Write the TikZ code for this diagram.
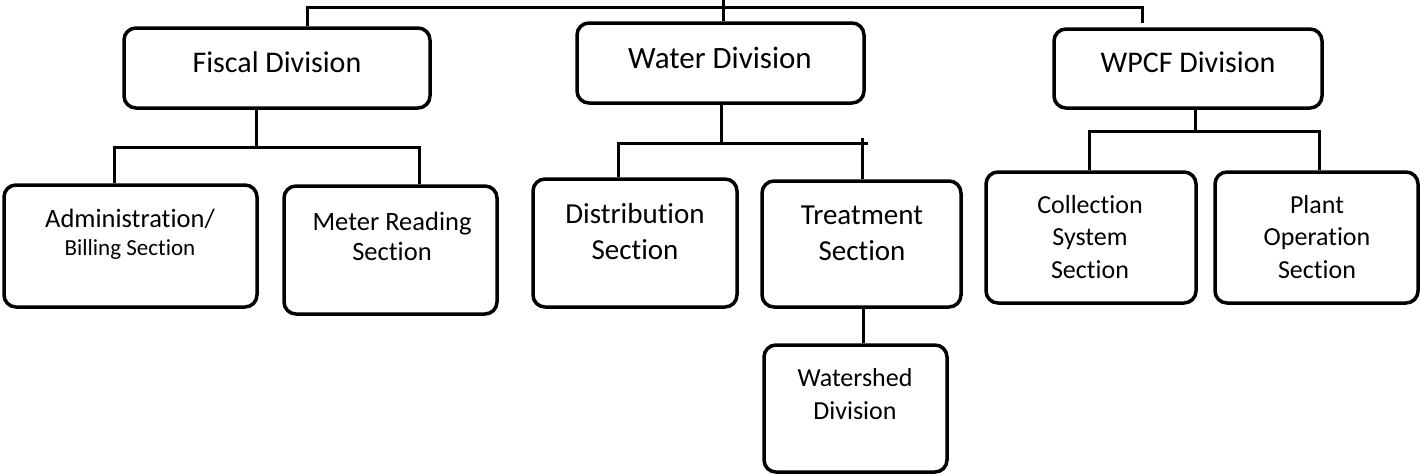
\documentclass[tikz,border=0pt]{standalone}
\usepackage{fontspec}
\setmainfont[Ligatures=NoCommon]{Carlito}
\begin{document}
\begin{tikzpicture}[x=1pt,y=-1pt,
  box/.style={draw, line width=3.5pt, rounded corners=12pt, inner sep=0pt},
  lbl/.style={anchor=base, align=center, inner sep=0pt},
  link/.style={line width=3pt},
  big/.style={font=\fontsize{30}{36}\selectfont},
  mid/.style={font=\fontsize{29}{36}\selectfont},
  sml/.style={font=\fontsize{26.5}{30}\selectfont},
  tiny/.style={font=\fontsize{26}{32.5}\selectfont}]
\useasboundingbox (0,0) rectangle (1420,474);

% division boxes
\node[box, minimum width=306pt, minimum height=80pt] (fiscal) at (277,68) {};
\node[box, minimum width=287pt, minimum height=80pt] (water) at (720.5,63) {};
\node[box, minimum width=268pt, minimum height=79pt] (wpcf) at (1188,68.5) {};

% section boxes
\node[box, minimum width=253pt, minimum height=122pt] (admin) at (130.5,246) {};
\node[box, minimum width=213pt, minimum height=128pt] (meter) at (390.5,250) {};
\node[box, minimum width=204pt, minimum height=128pt] (dist) at (635,243) {};
\node[box, minimum width=199pt, minimum height=126pt] (treat) at (861.5,244) {};
\node[box, minimum width=183pt, minimum height=127pt] (wshed) at (855.5,408.5) {};
\node[box, minimum width=210pt, minimum height=131pt] (coll) at (1091,237.5) {};
\node[box, minimum width=203pt, minimum height=131pt] (plant) at (1316.5,237.5) {};

% labels (multi-line labels are placed by their last baseline)
\node[lbl, big] (fiscal-t) at (277,72) {Fiscal Division};
\node[lbl, font=\fontsize{31}{36}\selectfont] (water-t) at (720,68) {Water Division};
\node[lbl, big] (wpcf-t) at (1188,72) {WPCF Division};
\node[lbl, sml] (admin-t) at (130,227) {Administration/};
\node[lbl, font=\fontsize{23}{28}\selectfont] (billing-t) at (130,255) {Billing Section};
\node[lbl, sml] (meter-t) at (392,260) {Meter Reading\\Section};
\node[lbl, mid] (dist-t) at (635,259) {Distribution\\Section};
\node[lbl, mid] (treat-t) at (862,260) {Treatment\\Section};
\node[lbl, tiny] (wshed-t) at (855,419) {Watershed\\Division};
\node[lbl, tiny] (coll-t) at (1090,278) {Collection\\System\\Section};
\node[lbl, tiny] (plant-t) at (1317,278) {Plant\\Operation\\Section};

% junction points
\coordinate (root) at (723,0);
\coordinate (tl) at (307,7);
\coordinate (tr) at (1142,7);
\coordinate (trend) at (1142,23);
\coordinate (fj) at (256,147);
\coordinate (fa) at (114,147);
\coordinate (fm) at (419,147);
\coordinate (wj) at (721,143);
\coordinate (wd) at (618,143);
\coordinate (wt) at (868,143);
\coordinate (wtick) at (862,138);
\coordinate (pj) at (1195,131);
\coordinate (pc) at (1089,131);
\coordinate (pp) at (1319,131);

% top level
\draw[link] (root) -- (root |- water.north);
\draw[link] (fiscal.north -| tl) -- (tl) -- (tr) -- (trend);

% fiscal branch
\draw[link] (fiscal.south -| fj) -- (fj);
\draw[link] (admin.north -| fa) -- (fa) -- (fm) -- (meter.north -| fm);

% water branch
\draw[link] (water.south -| wj) -- (wj);
\draw[link] (dist.north -| wd) -- (wd) -- (wt);
\draw[link] (wtick) -- (treat.north -| wtick);
\draw[link] (treat.south -| 863,0) -- (wshed.north -| 863,0);

% wpcf branch
\draw[link] (wpcf.south -| pj) -- (pj);
\draw[link] (coll.north -| pc) -- (pc) -- (pp) -- (plant.north -| pp);
\end{tikzpicture}
\end{document}
